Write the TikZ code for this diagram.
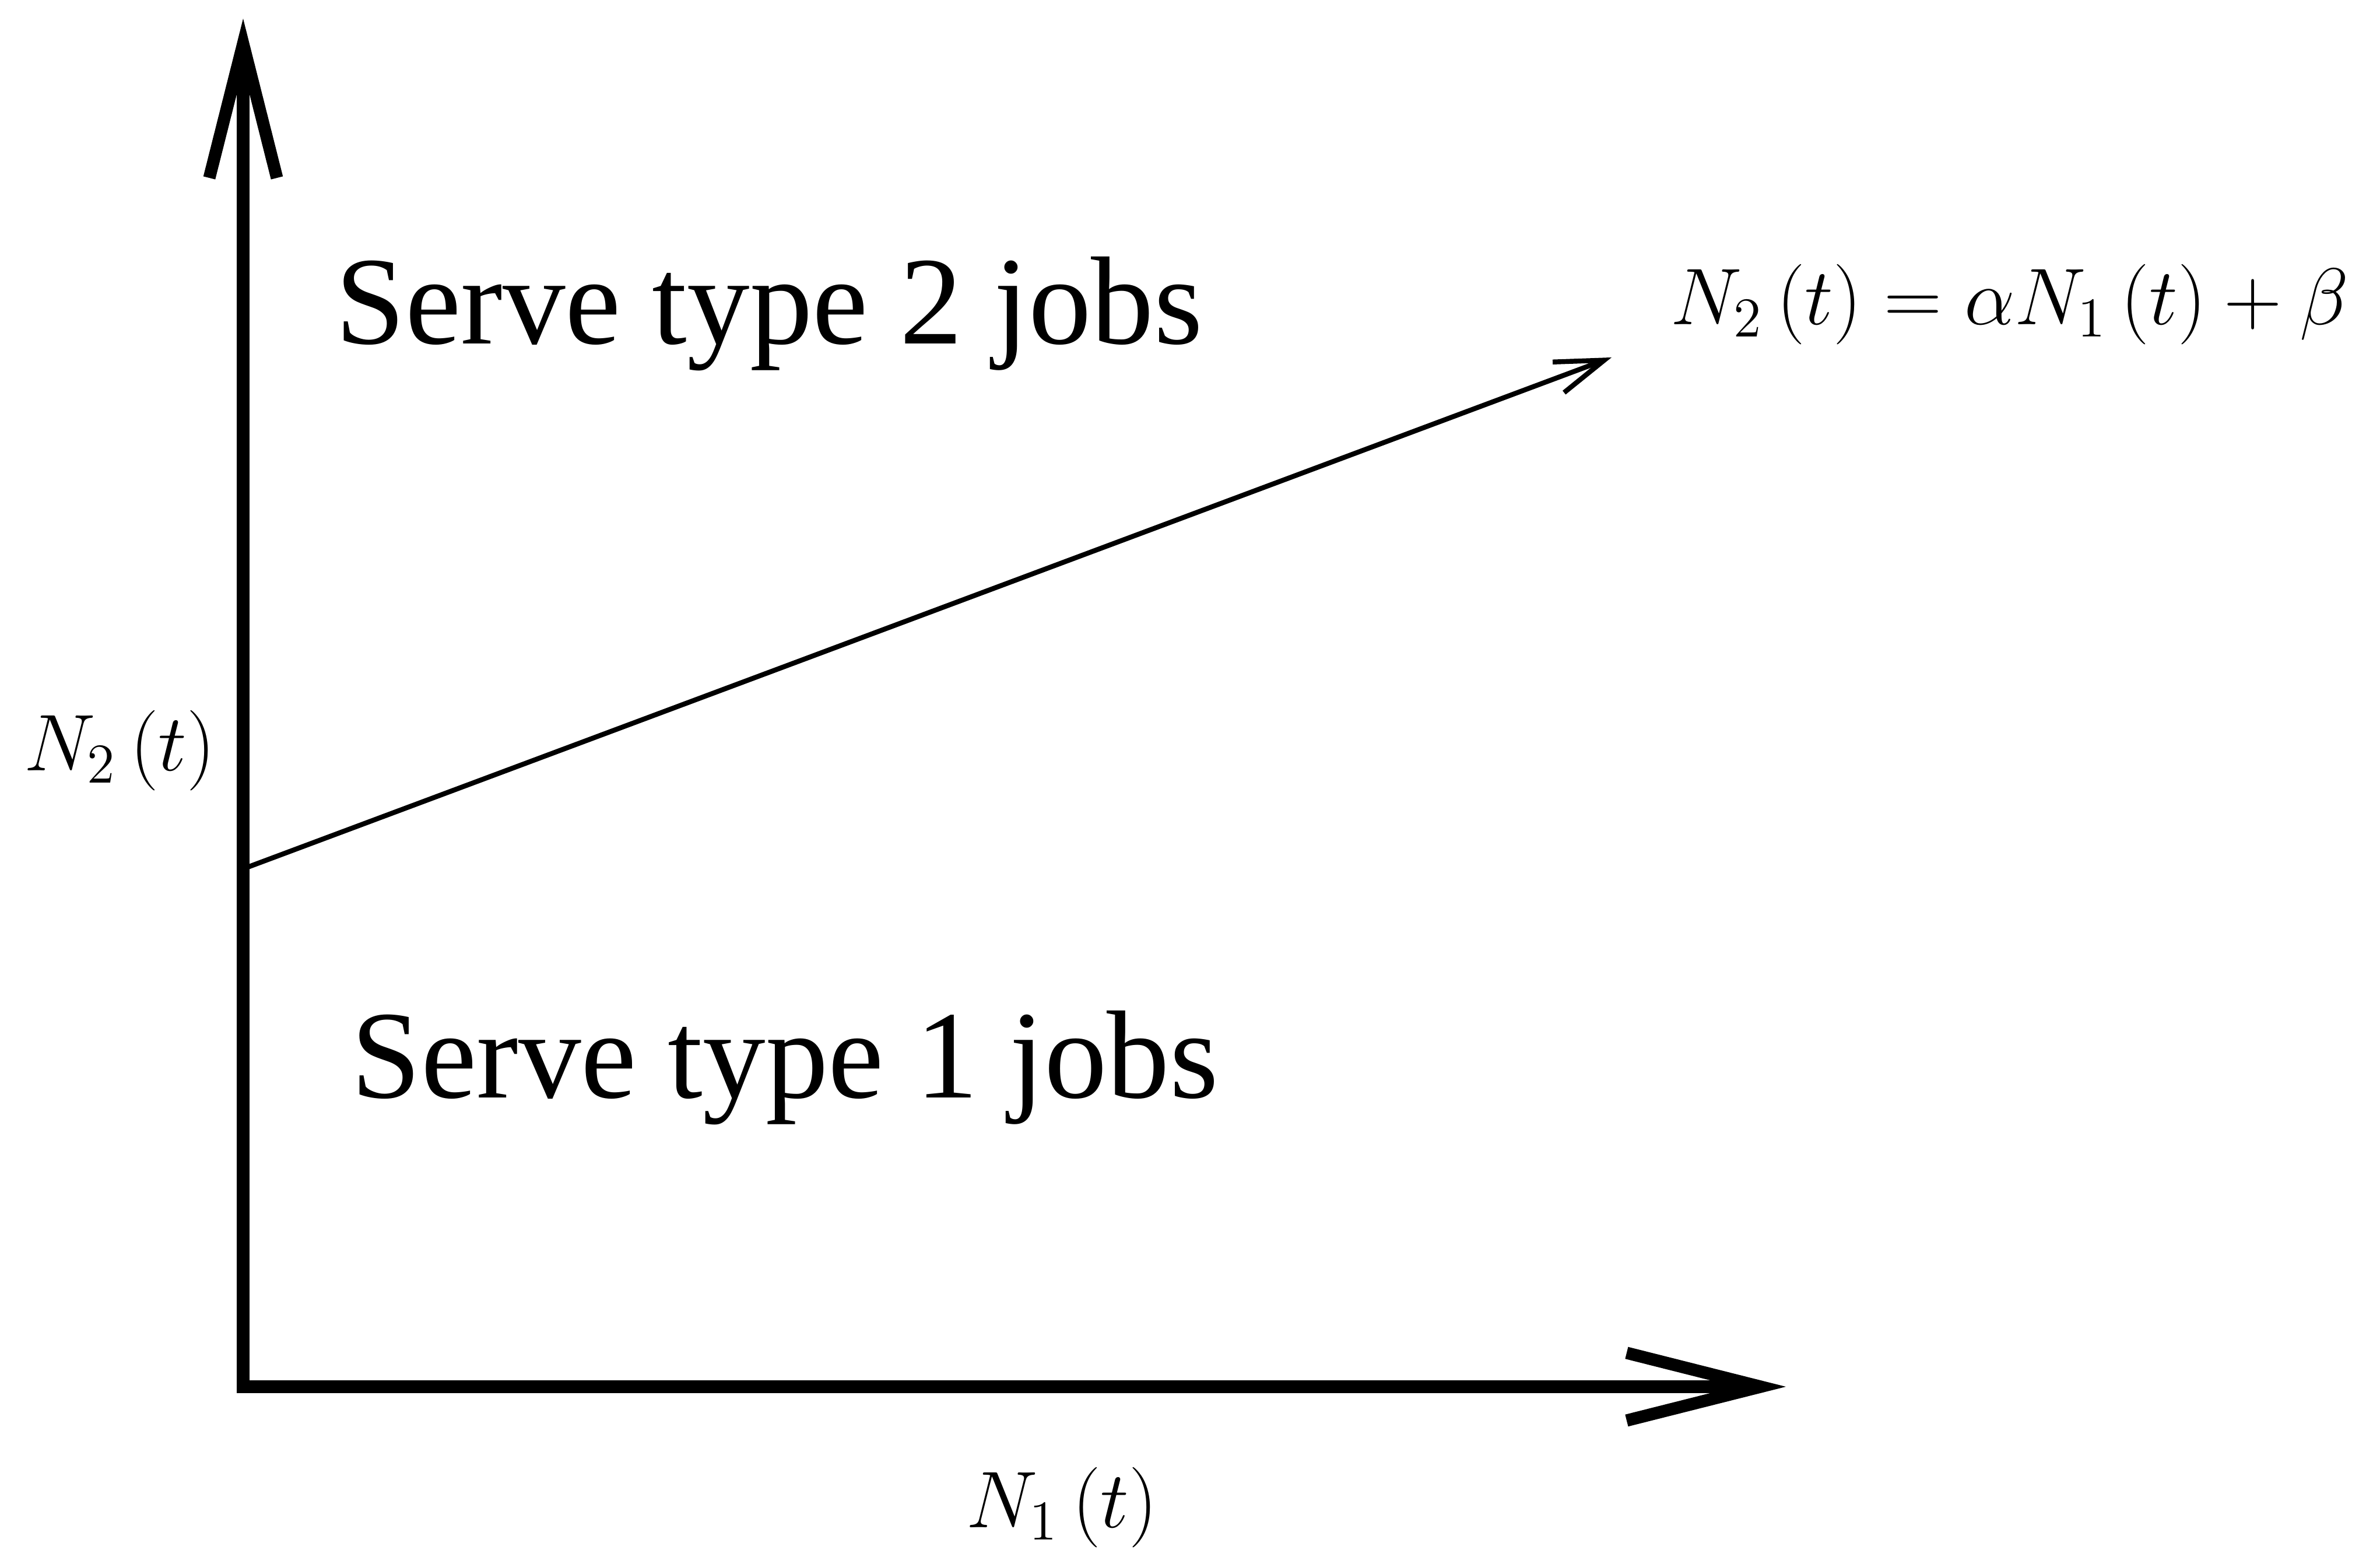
\documentclass[tikz,border=0pt]{standalone}
\usepackage{fix-cm}
\usepackage{amsmath}
\usepackage[no-math]{fontspec}
\setmainfont{Liberation Serif}
\usetikzlibrary{arrows.meta,positioning}
\tikzset{
  axis/.style={
    {Straight Barb[length=11.5mm,width=5.8mm]}-{Straight Barb[length=11.5mm,width=5.8mm]},
    line width=3pt, line join=miter
  },
  bnd/.style={-{Straight Barb[length=4.2mm,width=2.8mm]}, line width=1.2pt},
  region/.style={inner sep=0pt, anchor=base west, font=\fontsize{30.6}{37}\selectfont},
  lbl/.style={inner sep=0pt, anchor=base west, font=\fontsize{19.6}{23}\selectfont}
}

\begin{document}
\begin{tikzpicture}
  \useasboundingbox (0,0) rectangle (20.41,13.29);
  \coordinate (o) at (2.085,1.40);
  \coordinate (ytip) at (2.085,13.13);
  \coordinate (xtip) at (15.315,1.40);
  \coordinate (b0) at (2.085,5.84);
  \coordinate (b1) at (13.82,10.225);

  \node[region] (srv2) at (2.87,10.34) {Serve type 2 jobs};
  \node[region] (srv1) at (3.005,3.875) {Serve type 1 jobs};
  \node[lbl] (ylab) at (0.2,6.68) {$N_2\left(t\right)$};
  \node[lbl] (xlab) at (8.28,0.19) {$N_1\left(t\right)$};
  \node[lbl] (eq) at (14.32,10.505) {$N_2\left(t\right)=\alpha N_1\left(t\right)+\beta$};

  \draw[axis] (ytip) -- (o) -- (xtip);
  \draw[bnd] (b0) -- (b1);
\end{tikzpicture}
\end{document}
